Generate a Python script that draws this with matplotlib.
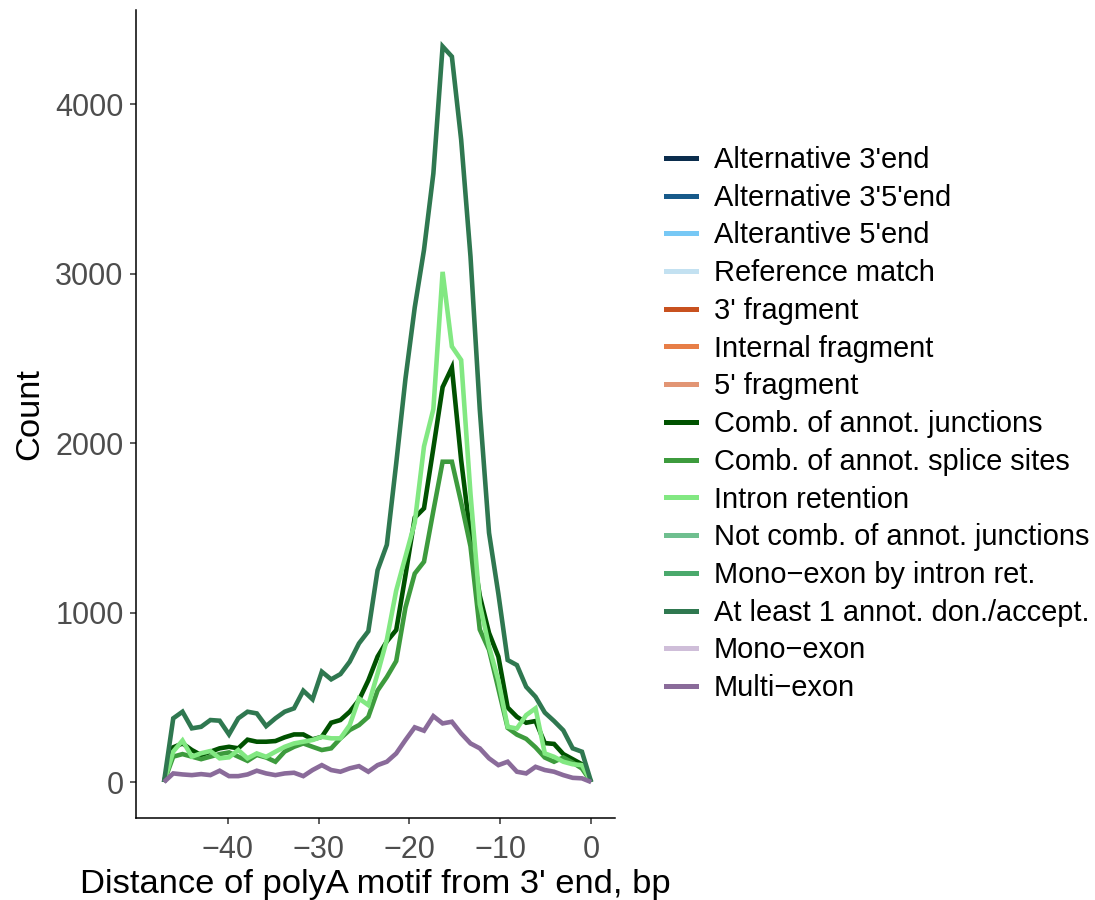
import matplotlib
matplotlib.use("Agg")
import matplotlib.pyplot as plt
from matplotlib.lines import Line2D

plt.rcParams['font.family'] = ['Liberation Sans', 'DejaVu Sans']

# bin centres (x positions of the frequency polygon)
x_pos = [-47.02, -46.00, -44.98, -43.95, -42.93, -41.91, -40.89, -39.86, -38.84, -37.82,
         -36.80, -35.77, -34.75, -33.73, -32.70, -31.68, -30.66, -29.64, -28.61, -27.59,
         -26.57, -25.55, -24.52, -23.50, -22.48, -21.45, -20.43, -19.41, -18.39, -17.36,
         -16.34, -15.32, -14.30, -13.27, -12.25, -11.23, -10.20, -9.18, -8.16, -7.14,
         -6.11, -5.09, -4.07, -3.05, -2.02, -1.00, 0.02]

comb_junctions = [0, 205, 228, 189, 159, 179, 199, 208, 199, 250,
                  238, 238, 242, 264, 281, 281, 252, 267, 350, 366,
                  415, 484, 600, 740, 830, 897, 1220, 1560, 1615, 1970,
                  2330, 2445, 1900, 1450, 1100, 880, 740, 440, 385, 350,
                  360, 230, 225, 165, 135, 105, 0]

comb_splice = [0, 150, 165, 150, 135, 150, 165, 175, 150, 125,
               160, 145, 120, 180, 208, 228, 208, 189, 199, 258,
               307, 336, 385, 540, 620, 714, 1030, 1230, 1300, 1600,
               1890, 1890, 1650, 1390, 900, 780, 550, 320, 280, 255,
               205, 145, 120, 145, 115, 80, 0]

intron_ret = [0, 180, 245, 150, 170, 183, 140, 146, 189, 140,
              169, 149, 179, 208, 228, 238, 248, 267, 258, 258,
              336, 493, 454, 640, 840, 1130, 1330, 1530, 1980, 2200,
              3010, 2570, 2490, 1700, 1050, 800, 600, 326, 316, 395,
              435, 169, 149, 120, 105, 100, 0]

atleast1 = [0, 376, 415, 317, 326, 366, 362, 281, 376, 415,
            405, 330, 376, 415, 435, 539, 488, 651, 606, 637,
            710, 818, 890, 1250, 1400, 1880, 2380, 2800, 3140, 3590,
            4340, 4280, 3790, 3100, 2200, 1470, 1110, 720, 690, 562,
            503, 410, 360, 305, 199, 179, 0]

multi_exon = [0, 51, 45, 41, 47, 41, 67, 35, 35, 45,
              67, 51, 41, 51, 55, 35, 71, 100, 71, 61,
              81, 94, 61, 100, 120, 169, 248, 323, 303, 389,
              346, 356, 287, 228, 199, 140, 100, 120, 61, 51,
              90, 71, 61, 41, 25, 22, 0]

categories = ["Alternative 3'end", "Alternative 3'5'end", "Alterantive 5'end",
              "Reference match", "3' fragment", "Internal fragment", "5' fragment",
              "Comb. of annot. junctions", "Comb. of annot. splice sites",
              "Intron retention", "Not comb. of annot. junctions",
              "Mono\u2212exon by intron ret.", "At least 1 annot. don./accept.",
              "Mono\u2212exon", "Multi\u2212exon"]

colors = ["#0b2d4d", "#175a8a", "#77c8f5", "#c3e1f1", "#c8511f", "#e77e47",
          "#e29574", "#005200", "#3d9b3d", "#82e882", "#6fbf8f", "#4aa96c",
          "#2f7850", "#cfbed9", "#8a6b9a"]

series = {
    "Comb. of annot. junctions": comb_junctions,
    "Comb. of annot. splice sites": comb_splice,
    "Intron retention": intron_ret,
    "At least 1 annot. don./accept.": atleast1,
    "Multi\u2212exon": multi_exon,
}

x_ticks = [-40, -30, -20, -10, 0]
y_ticks = [0, 1000, 2000, 3000, 4000]

fig = plt.figure(figsize=(10.95, 9), dpi=100)
ax = fig.add_axes([136 / 1095, 1 - 818 / 900, (615 - 136) / 1095, (818 - 10) / 900])

handles = []
for cat, col in zip(categories, colors):
    if cat in series:
        ax.plot(x_pos, series[cat], color=col, lw=3.3, solid_joinstyle='miter',
                solid_capstyle='butt')
    handles.append(Line2D([], [], color=col, lw=3.6))

ax.set_xlim(-50.1, 2.64)
ax.set_ylim(-212, 4555)
ax.set_xticks(x_ticks)
ax.set_xticklabels([("\u2212%d" % -t) if t < 0 else str(t) for t in x_ticks])
ax.set_yticks(y_ticks)
ax.tick_params(axis='both', labelsize=22, labelcolor='#4d4d4d', color='#333333',
               length=4.5, width=1.1, direction='out')
ax.tick_params(axis='x', pad=7.5)
ax.tick_params(axis='y', pad=4.5)
for s in ['top', 'right']:
    ax.spines[s].set_visible(False)
for s in ['left', 'bottom']:
    ax.spines[s].set_linewidth(1.1)
    ax.spines[s].set_color('black')

ax.set_xlabel("Distance of polyA motif from 3' end, bp", fontsize=24.8, labelpad=3)
ax.set_ylabel("Count", fontsize=24.8, labelpad=7)

fig.legend(handles, categories, loc='upper left',
           bbox_to_anchor=(666 / 1095, 1 - 146 / 900), frameon=False,
           fontsize=20.9, handlelength=1.03, handletextpad=0.62,
           labelspacing=0.335, borderpad=0, borderaxespad=0)

fig.savefig("out.png", dpi=100)
